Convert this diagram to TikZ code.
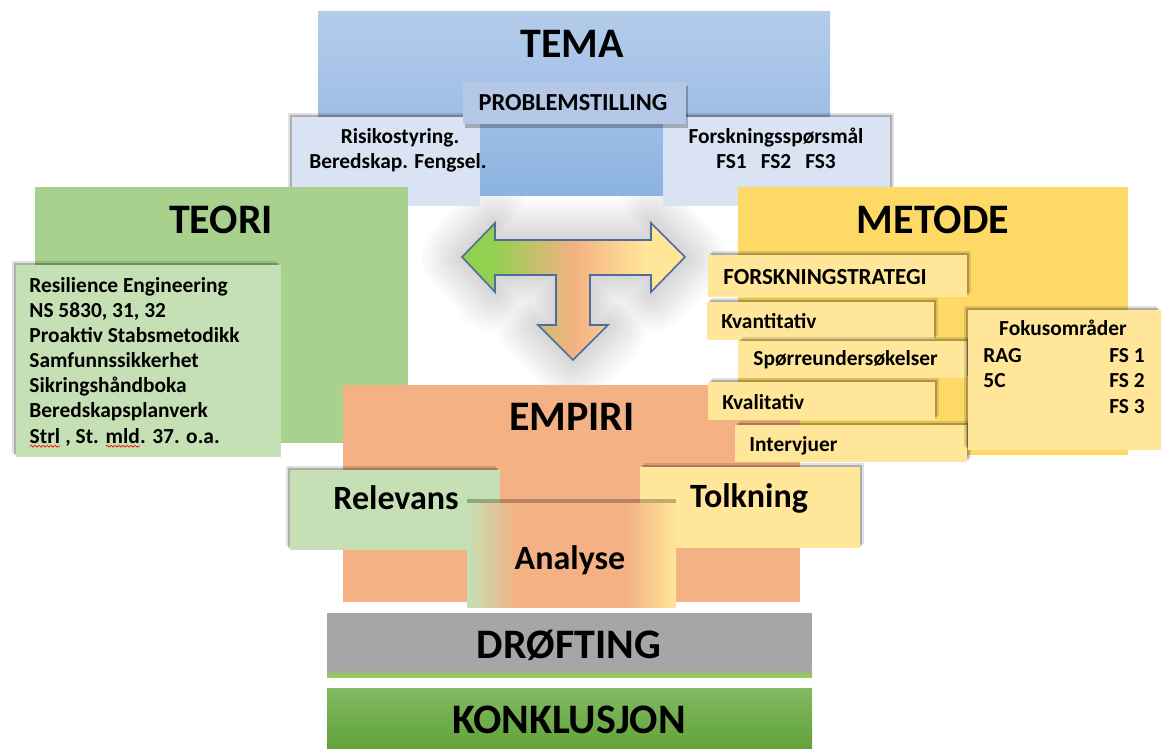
\documentclass[tikz,border=0pt]{standalone}
\usepackage{fontspec}
\setmainfont{Carlito}
\usetikzlibrary{positioning,fit,shadows,decorations.pathmorphing}

\definecolor{tematop}{HTML}{B4CCEA}
\definecolor{temabot}{HTML}{8DB3E2}
\definecolor{probfill}{HTML}{B4C7E7}
\definecolor{subblue}{HTML}{DAE3F3}
\definecolor{teorigreen}{HTML}{A9D18E}
\definecolor{lightgreen}{HTML}{C5E0B4}
\definecolor{metodegold}{HTML}{FFD966}
\definecolor{lightgold}{HTML}{FFE699}
\definecolor{empiriorange}{HTML}{F4B183}
\definecolor{arrowgreen}{HTML}{92D050}
\definecolor{arrowline}{HTML}{4F6D9B}
\definecolor{drofgray}{HTML}{A6A6A6}
\definecolor{konktop}{HTML}{82BA62}
\definecolor{konkbot}{HTML}{62A23A}

\pgfdeclarehorizontalshading{tarrowshade}{100bp}{color(0bp)=(arrowgreen); color(25bp)=(arrowgreen); color(32bp)=(arrowgreen); color(50bp)=(empiriorange); color(66bp)=(lightgold); color(100bp)=(lightgold)}
\pgfdeclarehorizontalshading{analyseshade}{100bp}{color(0bp)=(lightgreen); color(25bp)=(lightgreen); color(37bp)=(empiriorange); color(63bp)=(empiriorange); color(75bp)=(lightgold); color(100bp)=(lightgold)}

% red spell-check wave under a word
\newcommand\spellerr[1]{\tikz[baseline=(sw.base)]{\node[anchor=center, inner sep=0pt, outer sep=0pt] (sw) {#1};\draw[red, line width=.35pt, decorate, decoration={snake, amplitude=.45pt, segment length=2pt}] ([yshift=-1.6pt]sw.base west) -- ([yshift=-1.6pt]sw.base east);}}

% outline of the T arrow
\newcommand\tshape{(462,257) -- (495,223) -- (495,240) -- (651,240) -- (651,223) -- (685,257)
  -- (651,292) -- (651,275) -- (590,275) -- (590,325) -- (608,325) -- (573,360) -- (538,325)
  -- (556,325) -- (556,275) -- (495,275) -- (495,292) -- cycle}

\begin{document}
\begin{tikzpicture}[x=0.5pt, y=-0.5pt,
    panel/.style={inner sep=0pt, outer sep=0pt},
    shadeleft/.style={drop shadow={shadow xshift=-2pt, shadow yshift=2pt, opacity=.12, fill=black},
                      drop shadow={shadow xshift=-1pt, shadow yshift=1pt, opacity=.22, fill=black}},
    shaderight/.style={drop shadow={shadow xshift=2pt, shadow yshift=2pt, opacity=.12, fill=black},
                       drop shadow={shadow xshift=1pt, shadow yshift=1pt, opacity=.22, fill=black}},
    titletxt/.style={font=\fontsize{21}{25}\selectfont\bfseries, inner sep=0pt, anchor=base},
    headtxt/.style={font=\fontsize{17}{20}\selectfont\bfseries, inner sep=0pt, anchor=base},
    itemtxt/.style={font=\fontsize{10.7}{12.6}\selectfont\bfseries, inner sep=0pt, anchor=base west}
]
\fill[white] (0,0) rectangle (1161,749);
\useasboundingbox (0,0) rectangle (1161,749);

% soft glow round the T arrow
\foreach \w in {4,8,...,40}
  \draw[black, line width=\w pt, opacity=.014, line join=round] \tshape;

% TEMA
\node[panel, fit={(318,12) (830,195)}, top color=tematop, bottom color=temabot] (tema) {};
\node[panel, fit={(292,117) (480,206)}, fill=subblue, shadeleft] (risiko) {};
\node[panel, fit={(663,117) (890,206)}, fill=subblue, shaderight] (sporsmal) {};
\node[panel, fit={(463,82) (686,124)}, fill=probfill, drop shadow={shadow xshift=1pt, shadow yshift=-2pt, opacity=.25, fill=black}] (problem) {};
\node[titletxt] (tematxt) at (572,58) {TEMA};
\node[itemtxt, anchor=base, font=\fontsize{12.2}{14}\selectfont\bfseries] (problemtxt) at (573,111) {PROBLEMSTILLING};
\node[itemtxt, anchor=base] (risiko1) at (400,143) {Risikostyring.};
\node[itemtxt, anchor=base] (risiko2) at (398,168) {Beredskap. Fengsel.};
\node[itemtxt, anchor=base] (sporsmal1) at (776,143) {Forskningsspørsmål};
\node[itemtxt, anchor=base] (sporsmal2) at (776,168) {FS1\hspace{7pt}FS2\hspace{7pt}FS3};

% TEORI
\node[panel, fit={(35,187) (408,443)}, fill=teorigreen] (teori) {};
\node[titletxt] (teoritxt) at (221,233) {TEORI};
\node[panel, fit={(16,265) (281,457)}, fill=lightgreen, shadeleft] (teorilist) {};
\foreach \line [count=\i from 0] in {Resilience Engineering, {NS 5830, 31, 32}, Proaktiv Stabsmetodikk,
    Samfunnssikkerhet, Sikringshåndboka, Beredskapsplanverk, {\spellerr{Strl} , St. \spellerr{mld}. 37. o.a.}}
  \node[itemtxt] (teori\i) at (29,292+25.17*\i) {\line};

% METODE
\node[panel, fit={(738,187) (1128,455)}, fill=metodegold] (metode) {};
\node[titletxt] (metodetxt) at (933,233) {METODE};

% EMPIRI
\node[panel, fit={(343,385) (800,602)}, fill=empiriorange] (empiri) {};
\node[titletxt] (empiritxt) at (572,430) {EMPIRI};

% forskningsstrategi
\node[panel, fit={(708,255) (967,297)}, fill=lightgold, shaderight] (strategi) {};
\node[itemtxt, font=\fontsize{11.5}{14}\selectfont\bfseries] (strategitxt) at (723,284) {FORSKNINGSTRATEGI};
\node[panel, fit={(707,302) (934,340)}, fill=lightgold, shaderight] (kvant) {};
\node[itemtxt] (kvanttxt) at (721,328) {Kvantitativ};
\node[panel, fit={(738,341) (967,378)}, fill=lightgold, shaderight] (survey) {};
\node[itemtxt] (surveytxt) at (753,365) {Spørreundersøkelser};
\node[panel, fit={(708,382) (935,420)}, fill=lightgold, shaderight] (kval) {};
\node[itemtxt] (kvaltxt) at (722,409) {Kvalitativ};
\node[panel, fit={(735,425) (967,462)}, fill=lightgold, shaderight] (interv) {};
\node[itemtxt] (intervtxt) at (749,451) {Intervjuer};

% fokusomraader
\node[panel, fit={(968,310) (1161,450)}, fill=lightgold, shadeleft] (fokus) {};
\node[itemtxt, anchor=base] (fokustxt) at (1063,335) {Fokusområder};
\node[itemtxt] (rag) at (983,362) {RAG};
\node[itemtxt] (fivec) at (983,387) {5C};
\node[itemtxt, anchor=base east] (fs1) at (1145,362) {FS 1};
\node[itemtxt, anchor=base east] (fs2) at (1145,387) {FS 2};
\node[itemtxt, anchor=base east] (fs3) at (1145,413) {FS 3};

% relevans, tolkning, analyse
\node[panel, fit={(290,470) (500,550)}, fill=lightgreen, shadeleft] (relevans) {};
\node[headtxt] (relevanstxt) at (396,509) {Relevans};
\node[panel, fit={(640,467) (860,548)}, fill=lightgold, shaderight] (tolkning) {};
\node[headtxt] (tolkningtxt) at (749,507) {Tolkning};
\node[panel, fit={(467,503) (676,607)}, shade, shading=analyseshade,
      drop shadow={shadow xshift=0pt, shadow yshift=2pt, opacity=.25, fill=black}] (analyse) {};
\node[headtxt] (analysetxt) at (570,569) {Analyse};

% drofting og konklusjon
\node[panel, fit={(327,613) (812,677)}, fill=drofgray] (drofting) {};
\node[panel, fit={(327,669) (812,677)}, top color=drofgray, bottom color=arrowgreen] (drofline) {};
\node[titletxt] (droftingtxt) at (569,658) {DRØFTING};
\node[panel, fit={(327,688) (812,749)}, top color=konktop, bottom color=konkbot] (konkl) {};
\node[titletxt] (konkltxt) at (569,733) {KONKLUSJON};

% T arrow
\shadedraw[shading=tarrowshade, draw=arrowline, line width=.8pt] \tshape;
\end{tikzpicture}
\end{document}
